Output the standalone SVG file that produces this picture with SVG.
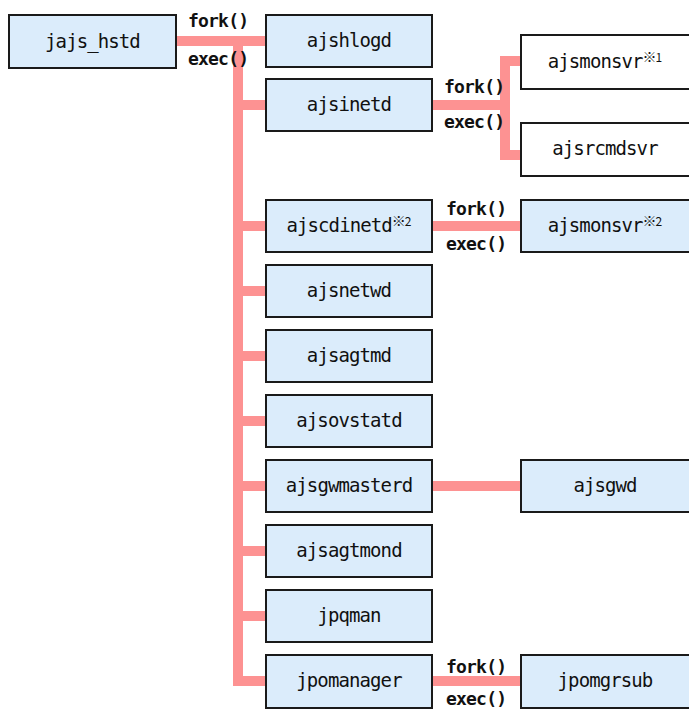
<svg xmlns="http://www.w3.org/2000/svg" width="689" height="709" viewBox="0 0 689 709">
<style>
.n{fill:#dbecfb;stroke:#1a1a1a;stroke-width:2}
.w{fill:#ffffff;stroke:#1a1a1a;stroke-width:2}
.t{font-family:"DejaVu Sans Mono","Liberation Mono",monospace;font-size:19px;letter-spacing:-0.9px;fill:#111;text-anchor:middle}
.s{font-family:"Noto Sans CJK JP","DejaVu Sans Mono",monospace;font-size:14px;letter-spacing:-1px}
.d{font-size:12px;letter-spacing:0}
.l{font-family:"DejaVu Sans Mono","Liberation Mono",monospace;font-size:18px;letter-spacing:-0.8px;font-weight:bold;fill:#111}
.c{fill:none;stroke:#fd9292;stroke-width:10;stroke-linejoin:miter}
</style>
<rect width="689" height="709" fill="#ffffff"/>
<g id="connectors">
<path class="c" d="M176 41H266"/>
<path class="c" d="M238 41V681H266"/>
<path class="c" d="M238 105H266M238 226H266M238 291H266M238 356H266M238 421H266M238 486H266M238 551H266M238 616H266"/>
<path class="c" d="M432 105H505"/>
<path class="c" d="M521 61H505V155H521"/>
<path class="c" d="M432 226H521"/>
<path class="c" d="M432 486H521"/>
<path class="c" d="M432 681H521"/>
</g>
<g id="labels">
<text class="l" x="188" y="27">fork()</text>
<text class="l" x="188" y="65">exec()</text>
<text class="l" x="444" y="93">fork()</text>
<text class="l" x="444" y="128">exec()</text>
<text class="l" x="446" y="215">fork()</text>
<text class="l" x="446" y="250">exec()</text>
<text class="l" x="446" y="673">fork()</text>
<text class="l" x="446" y="705">exec()</text>
</g>
<g id="jajs_hstd"><rect class="n" x="9" y="15" width="167" height="53"/><text class="t" x="92.5" y="47.5">jajs_hstd</text></g>
<g id="ajshlogd"><rect class="n" x="266" y="15" width="166" height="52"/><text class="t" x="349" y="47">ajshlogd</text></g>
<g id="ajsinetd"><rect class="n" x="266" y="79" width="166" height="52"/><text class="t" x="349" y="111">ajsinetd</text></g>
<g id="ajscdinetd"><rect class="n" x="266" y="200" width="166" height="52"/><text class="t" x="349" y="232">ajscdinetd<tspan class="s" dy="-6">※<tspan class="d">2</tspan></tspan></text></g>
<g id="ajsnetwd"><rect class="n" x="266" y="265" width="166" height="52"/><text class="t" x="349" y="297">ajsnetwd</text></g>
<g id="ajsagtmd"><rect class="n" x="266" y="330" width="166" height="52"/><text class="t" x="349" y="362">ajsagtmd</text></g>
<g id="ajsovstatd"><rect class="n" x="266" y="395" width="166" height="52"/><text class="t" x="349" y="427">ajsovstatd</text></g>
<g id="ajsgwmasterd"><rect class="n" x="266" y="460" width="166" height="52"/><text class="t" x="349" y="492">ajsgwmasterd</text></g>
<g id="ajsagtmond"><rect class="n" x="266" y="525" width="166" height="52"/><text class="t" x="349" y="557">ajsagtmond</text></g>
<g id="jpqman"><rect class="n" x="266" y="590" width="166" height="52"/><text class="t" x="349" y="622">jpqman</text></g>
<g id="jpomanager"><rect class="n" x="266" y="655" width="166" height="53"/><text class="t" x="349" y="687">jpomanager</text></g>
<g id="ajsmonsvr1"><rect class="w" x="521" y="35" width="170" height="54"/><text class="t" x="605" y="68">ajsmonsvr<tspan class="s" dy="-6">※<tspan class="d">1</tspan></tspan></text></g>
<g id="ajsrcmdsvr"><rect class="w" x="521" y="123" width="170" height="53"/><text class="t" x="605" y="155">ajsrcmdsvr</text></g>
<g id="ajsmonsvr2"><rect class="n" x="521" y="200" width="170" height="52"/><text class="t" x="605" y="232">ajsmonsvr<tspan class="s" dy="-6">※<tspan class="d">2</tspan></tspan></text></g>
<g id="ajsgwd"><rect class="n" x="521" y="460" width="170" height="52"/><text class="t" x="605" y="492">ajsgwd</text></g>
<g id="jpomgrsub"><rect class="n" x="521" y="655" width="170" height="53"/><text class="t" x="605" y="687">jpomgrsub</text></g>
</svg>
